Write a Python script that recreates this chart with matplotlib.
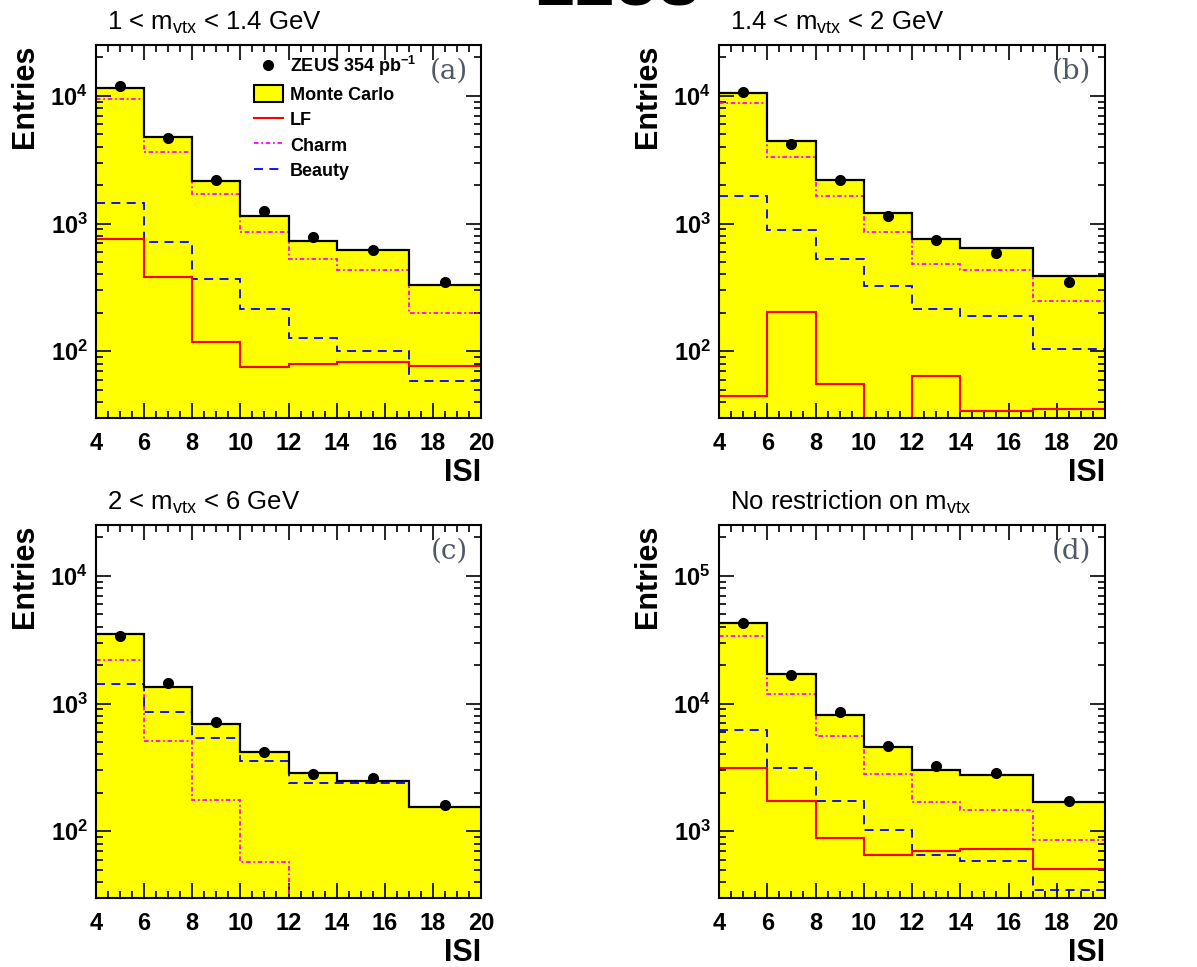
import matplotlib
matplotlib.use("Agg")
import math
import matplotlib.pyplot as plt
from matplotlib.ticker import LogLocator, FuncFormatter, MultipleLocator, NullFormatter
from matplotlib.lines import Line2D
from matplotlib.patches import Patch

plt.rcParams["font.family"] = ["Liberation Sans", "DejaVu Sans"]
plt.rcParams["mathtext.fontset"] = "custom"
plt.rcParams["mathtext.rm"] = "Liberation Sans"
plt.rcParams["mathtext.bf"] = "Liberation Sans:bold"
plt.rcParams["mathtext.it"] = "Liberation Sans:italic"

# ISI binning
edges = [4, 6, 8, 10, 12, 14, 17, 20]
centers = [5, 7, 9, 11, 13, 15.5, 18.5]

# (a) 1 < m_vtx < 1.4 GeV
a_data = [11900, 4650, 2200, 1260, 780, 615, 350]
a_err = [110, 68, 47, 36, 28, 25, 19]
a_mc = [11500, 4780, 2160, 1150, 725, 620, 330]
a_charm = [9480, 3600, 1700, 860, 530, 430, 200]
a_beauty = [1450, 720, 367, 215, 128, 101, 58]
a_lf = [760, 378, 118, 75, 79, 83, 77]

# (b) 1.4 < m_vtx < 2 GeV
b_data = [10700, 4190, 2190, 1150, 745, 585, 346]
b_err = [103, 65, 47, 34, 27, 24, 19]
b_mc = [10600, 4410, 2210, 1200, 755, 643, 385]
b_charm = [8830, 3320, 1650, 860, 483, 431, 246]
b_beauty = [1650, 888, 528, 322, 215, 188, 105]
b_lf = [45, 202, 55, 15, 64, 34, 35]

# (c) 2 < m_vtx < 6 GeV  (LF below the plotted range)
c_data = [3400, 1440, 716, 419, 282, 263, 160]
c_err = [58, 38, 27, 20, 17, 16, 13]
c_mc = [3500, 1340, 695, 416, 284, 248, 155]
c_charm = [2180, 507, 177, 57, 10, 10, 10]
c_beauty = [1430, 851, 535, 357, 239, 239, 155]

# (d) no restriction
d_data = [43000, 16800, 8610, 4650, 3270, 2850, 1735]
d_err = [207, 130, 93, 68, 57, 53, 42]
d_mc = [42800, 17000, 8110, 4540, 3000, 2770, 1680]
d_charm = [34000, 11800, 5530, 2810, 1680, 1470, 856]
d_beauty = [6240, 3100, 1720, 1030, 655, 588, 349]
d_lf = [3100, 1720, 893, 655, 703, 720, 502]

panels = [
    dict(title=r"1 < m$_{\mathrm{vtx}}$ < 1.4 GeV", tag="(a)", ylim=(30, 2.5e4),
         data=a_data, err=a_err, mc=a_mc, charm=a_charm, beauty=a_beauty, lf=a_lf),
    dict(title=r"1.4 < m$_{\mathrm{vtx}}$ < 2 GeV", tag="(b)", ylim=(30, 2.5e4),
         data=b_data, err=b_err, mc=b_mc, charm=b_charm, beauty=b_beauty, lf=b_lf),
    dict(title=r"2 < m$_{\mathrm{vtx}}$ < 6 GeV", tag="(c)", ylim=(30, 2.5e4),
         data=c_data, err=c_err, mc=c_mc, charm=c_charm, beauty=c_beauty, lf=None),
    dict(title=r"No restriction on m$_{\mathrm{vtx}}$", tag="(d)", ylim=(300, 2.5e5),
         data=d_data, err=d_err, mc=d_mc, charm=d_charm, beauty=d_beauty, lf=d_lf),
]

W, H = 1197, 967
fig = plt.figure(figsize=(W / 100, H / 100), dpi=100)

# axes boxes in pixels: left, top, right, bottom
boxes = [(96, 45, 481, 418), (719, 45, 1105, 418),
         (96, 525, 481, 898), (719, 525, 1105, 898)]

charm_ls = (0, (2.5, 1.5, 1, 1.5))
beauty_ls = (0, (5, 3.5))

for i, (p, (l, t, r, b)) in enumerate(zip(panels, boxes)):
    ax = fig.add_axes([l / W, 1 - b / H, (r - l) / W, (b - t) / H])
    ax.set_yscale("log")
    ax.set_xlim(4, 20)
    ax.set_ylim(*p["ylim"])

    ax.stairs(p["mc"], edges, fill=True, color="#ffff00", baseline=1, zorder=1)
    ax.stairs(p["mc"], edges, baseline=None, color="black", lw=1.6, zorder=3)
    ax.stairs(p["charm"], edges, baseline=None, color="#ff00ff", lw=1.3, ls=charm_ls, zorder=2)
    ax.stairs(p["beauty"], edges, baseline=None, color="#0000ff", lw=1.3, ls=beauty_ls, zorder=2)
    if p["lf"] is not None:
        ax.stairs(p["lf"], edges, baseline=None, color="#ff0000", lw=1.5, zorder=2)
    ax.errorbar(centers, p["data"], yerr=p["err"], fmt="o", color="black", ms=7,
                elinewidth=1.2, capsize=0, zorder=4)

    ax.xaxis.set_major_locator(MultipleLocator(2))
    ax.xaxis.set_minor_locator(MultipleLocator(0.5))
    ax.yaxis.set_major_locator(LogLocator(base=10, numticks=10))
    ax.yaxis.set_minor_locator(LogLocator(base=10, subs=range(2, 10), numticks=20))
    ax.yaxis.set_minor_formatter(NullFormatter())
    ax.yaxis.set_major_formatter(FuncFormatter(lambda v, pos: r"$\mathbf{10^{%d}}$" % round(math.log10(v))))
    ax.tick_params(which="both", direction="in", top=True, right=True, width=1.2)
    ax.tick_params(which="major", length=11, labelsize=17)
    ax.tick_params(which="minor", length=5)
    ax.tick_params(axis="x", pad=10)
    ax.tick_params(axis="y", pad=6)
    for lab in ax.get_xticklabels():
        lab.set_fontweight("bold")
    for s in ax.spines.values():
        s.set_linewidth(1.5)

    ax.text(0.029, 1.04, p["title"], transform=ax.transAxes, fontsize=18.5,
            ha="left", va="baseline")
    ax.text(-0.184, 1.0, "Entries", transform=ax.transAxes, fontsize=22,
            fontweight="bold", rotation=90, ha="center", va="top")
    ax.text(1.0, -0.147, "ISI", transform=ax.transAxes, fontsize=22,
            fontweight="bold", ha="right", va="center")
    ax.text(0.965, 0.93, p["tag"], transform=ax.transAxes, fontsize=20,
            family="DejaVu Serif", color="#505868", ha="right", va="center")

    if i == 0:
        handles = [
            Line2D([], [], ls="none", marker="o", color="black", ms=7),
            Patch(facecolor="#ffff00", edgecolor="black", lw=1.5),
            Line2D([], [], color="#ff0000", lw=1.5),
            Line2D([], [], color="#ff00ff", lw=1.3, ls=charm_ls),
            Line2D([], [], color="#0000ff", lw=1.3, ls=beauty_ls),
        ]
        labels = [r"ZEUS 354 pb$^{\mathbf{-1}}$", "Monte Carlo", "LF", "Charm", "Beauty"]
        ax.legend(handles, labels, loc="upper left", bbox_to_anchor=(0.41, 0.975),
                  frameon=False, prop=dict(size=13, weight="bold"), handlelength=1.6,
                  handleheight=1.05, handletextpad=0.4, labelspacing=0.38,
                  borderpad=0, borderaxespad=0)

# big experiment label, cut by the top edge as in the original page crop
fig.text(618 / W, 1 - 6 / H, "ZEUS", ha="center", va="baseline", fontsize=44,
         fontweight="bold")

fig.savefig("out.png", dpi=100)
